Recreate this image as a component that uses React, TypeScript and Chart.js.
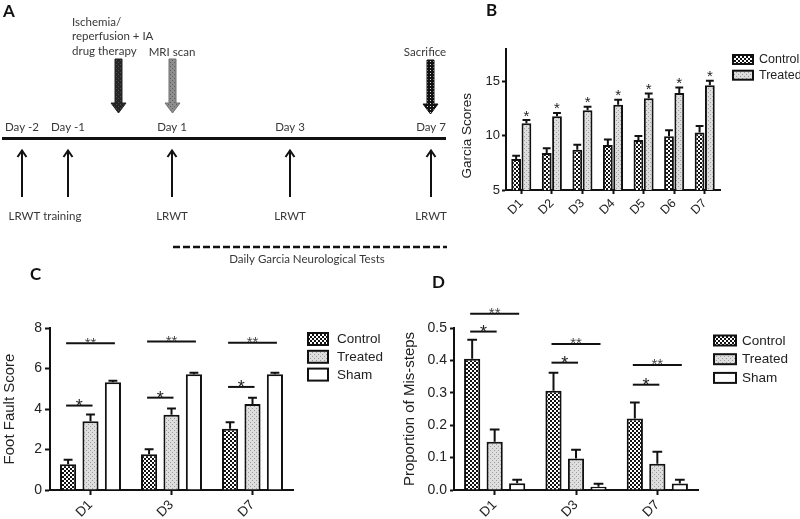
import React, { useEffect, useRef } from 'react';
import { Chart, registerables } from 'chart.js';

Chart.register(...registerables);

// ---------- Panel A (schematic timeline) ----------
const timelineDays = ['Day -2', 'Day -1', 'Day 1', 'Day 3', 'Day 7'];
const timelineTests = ['LRWT training', 'LRWT', 'LRWT', 'LRWT'];
const timelineEvents = [['Ischemia/', 'reperfusion + IA', 'drug therapy'], ['MRI scan'], ['Sacrifice']];
const timelineNote = 'Daily Garcia Neurological Tests';

// ---------- Panel B (Garcia scores) ----------
const garciaDays = ['D1', 'D2', 'D3', 'D4', 'D5', 'D6', 'D7'];
const garciaControl = [7.85, 8.4, 8.7, 9.15, 9.6, 9.95, 10.3];
const garciaControlErr = [0.3, 0.45, 0.48, 0.5, 0.37, 0.55, 0.6];
const garciaTreated = [11.15, 11.8, 12.35, 12.85, 13.45, 13.95, 14.65];
const garciaTreatedErr = [0.3, 0.3, 0.33, 0.48, 0.45, 0.5, 0.43];
const garciaSig = ['*', '*', '*', '*', '*', '*', '*'];

// ---------- Panels C and D ----------
const testDays = ['D1', 'D3', 'D7'];
const seriesNames = ['Control', 'Treated', 'Sham'];

const footControl = [1.27, 1.77, 3.02];
const footControlErr = [0.22, 0.24, 0.33];
const footTreated = [3.4, 3.72, 4.25];
const footTreatedErr = [0.33, 0.3, 0.3];
const footSham = [5.32, 5.71, 5.71];
const footShamErr = [0.08, 0.08, 0.08];
// [category index, from series, to series, y value, label]
const footBrackets: [number, number, number, number, string][] = [
  [0, 0, 2, 7.25, '**'], [0, 0, 1, 4.17, '*'],
  [1, 0, 2, 7.33, '**'], [1, 0, 1, 4.56, '*'],
  [2, 0, 2, 7.27, '**'], [2, 0, 1, 5.09, '*'],
];

const misControl = [0.405, 0.306, 0.221];
const misControlErr = [0.059, 0.056, 0.049];
const misTreated = [0.149, 0.097, 0.081];
const misTreatedErr = [0.038, 0.027, 0.037];
const misSham = [0.021, 0.01, 0.02];
const misShamErr = [0.011, 0.009, 0.012];
const misBrackets: [number, number, number, number, string][] = [
  [0, 0, 2, 0.544, '**'], [0, 0, 1, 0.489, '*'],
  [1, 0, 2, 0.451, '**'], [1, 0, 1, 0.393, '*'],
  [2, 0, 2, 0.386, '**'], [2, 0, 1, 0.325, '*'],
];

const FONT = '"Liberation Sans", Arial, sans-serif';
const DFONT = 'Lato, "Open Sans", sans-serif';
const INK = '#111';
const TEXT = '#222';

function makePattern(kind: string): CanvasPattern | string {
  const c = document.createElement('canvas');
  const x = c.getContext('2d');
  if (!x) return '#888';
  c.width = 4; c.height = 4;
  if (kind === 'checker') {
    x.fillStyle = '#111'; x.fillRect(0, 0, 4, 4);
    x.fillStyle = '#fff'; x.fillRect(0, 0, 2, 2); x.fillRect(2, 2, 2, 2);
  } else if (kind === 'stipple') {
    x.fillStyle = '#dedede'; x.fillRect(0, 0, 4, 4);
    x.fillStyle = '#9c9c9c'; x.fillRect(0, 0, 1, 1); x.fillRect(2, 2, 1, 1);
  } else if (kind === 'dark') {
    x.fillStyle = '#262626'; x.fillRect(0, 0, 4, 4);
    x.fillStyle = '#505050'; x.fillRect(0, 0, 1, 1); x.fillRect(2, 2, 1, 1);
  } else if (kind === 'mid') {
    x.fillStyle = '#8e8e8e'; x.fillRect(0, 0, 4, 4);
    x.fillStyle = '#5e5e5e'; x.fillRect(0, 0, 1, 1); x.fillRect(2, 2, 1, 1);
  } else {
    c.width = 3; c.height = 3;
    x.fillStyle = '#111'; x.fillRect(0, 0, 3, 3);
    x.fillStyle = '#ddd'; x.fillRect(1, 1, 1, 1);
  }
  return x.createPattern(c, 'repeat') || '#888';
}

// ---------- plugins ----------
const errorBarPlugin = {
  id: 'errorBars',
  afterDatasetsDraw(chart: any, _a: any, o: any) {
    const ctx = chart.ctx; const ys = chart.scales.y;
    ctx.save();
    ctx.strokeStyle = INK; ctx.lineWidth = 2;
    chart.data.datasets.forEach((ds: any, di: number) => {
      const meta = chart.getDatasetMeta(di);
      meta.data.forEach((bar: any, i: number) => {
        const top = ys.getPixelForValue(ds.data[i] + ds.errors[i]);
        const w = bar.width * (o.cap || 0.6);
        ctx.beginPath();
        ctx.moveTo(bar.x, bar.y); ctx.lineTo(bar.x, top);
        ctx.moveTo(bar.x - w / 2, top); ctx.lineTo(bar.x + w / 2, top);
        ctx.stroke();
      });
    });
    ctx.restore();
  },
};

const sideLegendPlugin = {
  id: 'sideLegend',
  afterDraw(chart: any, _a: any, o: any) {
    const ctx = chart.ctx; const a = chart.chartArea;
    ctx.save();
    chart.data.datasets.forEach((ds: any, i: number) => {
      const cy = a.top + o.dy + i * o.step;
      const bx = a.right + o.dx;
      ctx.fillStyle = ds.backgroundColor;
      ctx.fillRect(bx, cy - o.bh / 2, o.bw, o.bh);
      ctx.strokeStyle = INK; ctx.lineWidth = 2;
      ctx.strokeRect(bx, cy - o.bh / 2, o.bw, o.bh);
      ctx.fillStyle = TEXT; ctx.font = `${o.size}px ${FONT}`;
      ctx.textAlign = 'left'; ctx.textBaseline = 'middle';
      ctx.fillText(ds.label, bx + o.bw + o.gap, cy + 0.5);
    });
    ctx.restore();
  },
};

const panelLetterPlugin = {
  id: 'panelLetter',
  afterDraw(chart: any, _a: any, o: any) {
    const ctx = chart.ctx;
    ctx.save();
    ctx.fillStyle = INK; ctx.font = `bold 17px ${DFONT}`;
    ctx.textAlign = 'left'; ctx.textBaseline = 'alphabetic';
    ctx.fillText(o.text, o.x, o.y);
    ctx.restore();
  },
};

const starPlugin = {
  id: 'stars',
  afterDatasetsDraw(chart: any, _a: any, o: any) {
    const ctx = chart.ctx; const ds = chart.data.datasets[o.dataset];
    const meta = chart.getDatasetMeta(o.dataset);
    ctx.save();
    ctx.fillStyle = TEXT; ctx.font = `15px ${FONT}`;
    ctx.textAlign = 'center'; ctx.textBaseline = 'alphabetic';
    o.labels.forEach((lab: string, i: number) => {
      const bar = meta.data[i];
      const top = chart.scales.y.getPixelForValue(ds.data[i] + ds.errors[i]);
      ctx.fillText(lab, bar.x, top + 0.5);
    });
    ctx.restore();
  },
};

const bracketPlugin = {
  id: 'brackets',
  afterDatasetsDraw(chart: any, _a: any, o: any) {
    const ctx = chart.ctx;
    ctx.save();
    o.items.forEach(([cat, from, to, yv, lab]: [number, number, number, number, string]) => {
      const x1 = chart.getDatasetMeta(from).data[cat].x - 2;
      const x2 = chart.getDatasetMeta(to).data[cat].x + 2;
      const y = chart.scales.y.getPixelForValue(yv);
      ctx.strokeStyle = INK; ctx.lineWidth = 2;
      ctx.beginPath(); ctx.moveTo(x1, y); ctx.lineTo(x2, y); ctx.stroke();
      const big = lab.length === 1;
      ctx.fillStyle = big ? TEXT : '#444';
      ctx.font = `${big ? 18 : 15}px ${FONT}`;
      ctx.textAlign = 'center'; ctx.textBaseline = 'alphabetic';
      ctx.fillText(lab, (x1 + x2) / 2, y + (big ? 6.5 : 4.5));
    });
    ctx.restore();
  },
};

const sideTitlePlugin = {
  id: 'sideTitle',
  afterDraw(chart: any, _a: any, o: any) {
    const ctx = chart.ctx; const ys = chart.scales.y;
    const cy = (ys.getPixelForValue(o.from) + ys.getPixelForValue(o.to)) / 2;
    ctx.save();
    ctx.translate(o.x, cy); ctx.rotate(-Math.PI / 2);
    ctx.fillStyle = TEXT; ctx.font = `${o.size}px ${FONT}`;
    ctx.textAlign = 'center'; ctx.textBaseline = 'middle';
    ctx.fillText(o.text, 0, 0);
    ctx.restore();
  },
};

const timelinePlugin = {
  id: 'timeline',
  afterDraw(chart: any) {
    const ctx = chart.ctx; const sx = chart.scales.x; const sy = chart.scales.y;
    const X = (v: number) => sx.getPixelForValue(v);
    const Y = (v: number) => sy.getPixelForValue(v);
    const dayX = [22, 68, 172, 290, 431];
    const line = (x1: number, y1: number, x2: number, y2: number) => {
      ctx.beginPath(); ctx.moveTo(X(x1), Y(y1)); ctx.lineTo(X(x2), Y(y2)); ctx.stroke();
    };
    ctx.save();
    // panel letter
    ctx.fillStyle = INK; ctx.font = `bold 17px ${DFONT}`;
    ctx.textAlign = 'left'; ctx.textBaseline = 'alphabetic';
    ctx.fillText('A', X(3), Y(17));
    // main axis
    ctx.strokeStyle = INK; ctx.lineWidth = 3;
    line(2, 138.5, 446, 138.5);
    // day labels
    ctx.font = `11.5px ${DFONT}`; ctx.fillStyle = '#383838';
    ctx.textAlign = 'center'; ctx.textBaseline = 'middle';
    timelineDays.forEach((d, i) => ctx.fillText(d, X(dayX[i]), Y(127)));
    // up arrows
    ctx.lineWidth = 2; ctx.strokeStyle = INK;
    dayX.forEach((x) => {
      line(x, 151, x, 197);
      ctx.beginPath();
      ctx.moveTo(X(x - 4.5), Y(157)); ctx.lineTo(X(x), Y(150.5)); ctx.lineTo(X(x + 4.5), Y(157));
      ctx.stroke();
    });
    // test labels
    ctx.fillStyle = '#383838';
    ctx.fillText(timelineTests[0], X((dayX[0] + dayX[1]) / 2), Y(216));
    for (let i = 1; i < timelineTests.length; i++) ctx.fillText(timelineTests[i], X(dayX[i + 1]), Y(216));
    // dashed bar
    ctx.setLineDash([7, 3]); ctx.lineWidth = 2.5;
    line(173, 247, 447, 247);
    ctx.setLineDash([]);
    ctx.fillText(timelineNote, X(307), Y(259));
    // event labels
    ctx.textAlign = 'left';
    timelineEvents[0].forEach((t, i) => ctx.fillText(t, X(72), Y(22 + i * 14.5)));
    ctx.textAlign = 'center';
    ctx.fillText(timelineEvents[1][0], X(172), Y(52));
    ctx.fillText(timelineEvents[2][0], X(425), Y(52));
    // block arrows
    const block = (cx: number, top: number, bottom: number, fill: any, edge: string) => {
      const hs = bottom - 10;
      ctx.beginPath();
      ctx.moveTo(X(cx - 3.5), Y(top)); ctx.lineTo(X(cx + 3.5), Y(top));
      ctx.lineTo(X(cx + 3.5), Y(hs)); ctx.lineTo(X(cx + 7.5), Y(hs));
      ctx.lineTo(X(cx), Y(bottom)); ctx.lineTo(X(cx - 7.5), Y(hs));
      ctx.lineTo(X(cx - 3.5), Y(hs)); ctx.closePath();
      ctx.fillStyle = fill; ctx.fill();
      ctx.strokeStyle = edge; ctx.lineWidth = 1; ctx.stroke();
    };
    block(118.5, 59, 113, makePattern('dark'), '#222');
    block(172.5, 59, 113, makePattern('mid'), '#707070');
    block(430.5, 60, 114, makePattern('dots'), '#111');
    ctx.restore();
  },
};

// ---------- axis helpers ----------
function yAxis(o: any) {
  return {
    min: o.min, max: o.max,
    ticks: {
      stepSize: o.step, includeBounds: false, color: TEXT, padding: o.pad,
      font: { family: FONT, size: o.size },
      callback: o.fmt ? (v: any) => o.fmt(Number(v)) : undefined,
    },
    grid: { display: true, drawOnChartArea: false, drawTicks: true, tickLength: o.tickLen, tickWidth: 2, tickColor: INK },
    border: { display: true, color: INK, width: 2 },
    title: o.title
      ? { display: true, text: o.title, color: TEXT, font: { family: FONT, size: o.titleSize }, padding: { top: o.titlePad, bottom: 0 } }
      : { display: false },
    afterFit: (s: any) => { s.width = o.width; },
  };
}

function xAxis(size: number, height: number, tickLen: number, pad: number) {
  return {
    ticks: { color: TEXT, font: { family: FONT, size }, maxRotation: 45, minRotation: 45, padding: pad, autoSkip: false },
    grid: { display: true, drawOnChartArea: false, drawTicks: true, offset: false, tickLength: tickLen, tickWidth: 2, tickColor: INK },
    border: { display: true, color: INK, width: 2 },
    afterFit: (s: any) => { s.height = height; },
  };
}

const baseOptions = {
  animation: false as const,
  responsive: true,
  maintainAspectRatio: false,
  events: [] as any[],
};

function makeTimeline(canvas: HTMLCanvasElement) {
  return new Chart(canvas, {
    type: 'scatter',
    data: { datasets: [] },
    options: {
      ...baseOptions,
      layout: { padding: 0 },
      plugins: { legend: { display: false }, tooltip: { enabled: false } },
      scales: {
        x: { type: 'linear', min: 0, max: 460, display: false },
        y: { type: 'linear', min: 0, max: 290, reverse: true, display: false },
      },
    } as any,
    plugins: [timelinePlugin],
  });
}

function makeGarcia(canvas: HTMLCanvasElement) {
  const checker = makePattern('checker');
  const stipple = makePattern('stipple');
  return new Chart(canvas, {
    type: 'bar',
    data: {
      labels: garciaDays,
      datasets: [
        { label: 'Control', data: garciaControl, errors: garciaControlErr, backgroundColor: checker, borderColor: INK, borderWidth: 2 } as any,
        { label: 'Treated', data: garciaTreated, errors: garciaTreatedErr, backgroundColor: stipple, borderColor: INK, borderWidth: 2 } as any,
      ],
    },
    options: {
      ...baseOptions,
      layout: { padding: { top: 49, right: 80, left: 0, bottom: 0 } },
      datasets: { bar: { categoryPercentage: 0.673, barPercentage: 0.95 } },
      plugins: {
        legend: { display: false }, tooltip: { enabled: false },
        errorBars: { cap: 0.8 },
        stars: { dataset: 1, labels: garciaSig },
        sideLegend: { dx: 13, dy: 10.5, step: 15.7, bw: 20, bh: 9, gap: 6, size: 12.5 },
        panelLetter: { text: 'B', x: 46, y: 16 },
        sideTitle: { text: 'Garcia Scores', x: 27, from: 5, to: 15, size: 13.5 },
      },
      scales: {
        x: xAxis(12.5, 70, 4, 2),
        y: yAxis({ min: 5, max: 18, step: 5, size: 13, pad: 2, tickLen: 4, width: 66 }),
      },
    } as any,
    plugins: [errorBarPlugin, starPlugin, sideLegendPlugin, panelLetterPlugin, sideTitlePlugin],
  });
}

function makeTriple(canvas: HTMLCanvasElement, cfg: any) {
  const fills = [makePattern('checker'), makePattern('stipple'), '#ffffff'];
  return new Chart(canvas, {
    type: 'bar',
    data: {
      labels: testDays,
      datasets: cfg.values.map((vals: number[], i: number) => ({
        label: seriesNames[i], data: vals, errors: cfg.errors[i],
        backgroundColor: fills[i], borderColor: INK, borderWidth: 2,
      })),
    },
    options: {
      ...baseOptions,
      layout: { padding: { top: 68, right: cfg.padRight, left: 0, bottom: 0 } },
      datasets: { bar: { categoryPercentage: 0.83, barPercentage: 0.72 } },
      plugins: {
        legend: { display: false }, tooltip: { enabled: false },
        errorBars: { cap: cfg.cap },
        brackets: { items: cfg.brackets },
        sideLegend: cfg.legend,
        panelLetter: cfg.letter,
      },
      scales: {
        x: xAxis(13.5, 29, 5, 2),
        y: yAxis(cfg.y),
      },
    } as any,
    plugins: [errorBarPlugin, bracketPlugin, sideLegendPlugin, panelLetterPlugin],
  });
}

function makeFoot(canvas: HTMLCanvasElement) {
  return makeTriple(canvas, {
    values: [footControl, footTreated, footSham],
    errors: [footControlErr, footTreatedErr, footShamErr],
    brackets: footBrackets,
    padRight: 107,
    cap: 0.55,
    legend: { dx: 15, dy: 11, step: 17.8, bw: 20, bh: 12, gap: 9, size: 13.5 },
    letter: { text: 'C', x: 30, y: 20 },
    y: { min: 0, max: 8, step: 2, size: 14, pad: 3, tickLen: 5, width: 50, title: 'Foot Fault Score', titleSize: 15, titlePad: 1 },
  });
}

function makeMis(canvas: HTMLCanvasElement) {
  return makeTriple(canvas, {
    values: [misControl, misTreated, misSham],
    errors: [misControlErr, misTreatedErr, misShamErr],
    brackets: misBrackets,
    padRight: 102,
    cap: 0.6,
    legend: { dx: 16, dy: 12.5, step: 18.7, bw: 22, bh: 10, gap: 6, size: 13.5 },
    letter: { text: 'D', x: 32, y: 28 },
    y: { min: 0, max: 0.5, step: 0.1, size: 14, pad: 3, tickLen: 4, width: 54, title: 'Proportion of Mis-steps', titleSize: 15, titlePad: 1, fmt: (v: number) => v.toFixed(1) },
  });
}

function Panel(props: { left: number; top: number; width: number; height: number; make: (c: HTMLCanvasElement) => Chart }) {
  const ref = useRef<HTMLCanvasElement>(null);
  useEffect(() => {
    if (!ref.current) return;
    const chart = props.make(ref.current);
    return () => chart.destroy();
  }, []);
  return (
    <div style={{ position: 'absolute', left: props.left, top: props.top, width: props.width, height: props.height }}>
      <canvas ref={ref} />
    </div>
  );
}

export default function App() {
  return (
    <div style={{ position: 'absolute', left: 0, top: 0, width: 800, height: 519, background: '#fff', overflow: 'hidden' }}>
      <Panel left={0} top={0} width={460} height={290} make={makeTimeline} />
      <Panel left={440} top={0} width={360} height={260} make={makeGarcia} />
      <Panel left={0} top={260} width={400} height={259} make={makeFoot} />
      <Panel left={400} top={260} width={400} height={259} make={makeMis} />
    </div>
  );
}
